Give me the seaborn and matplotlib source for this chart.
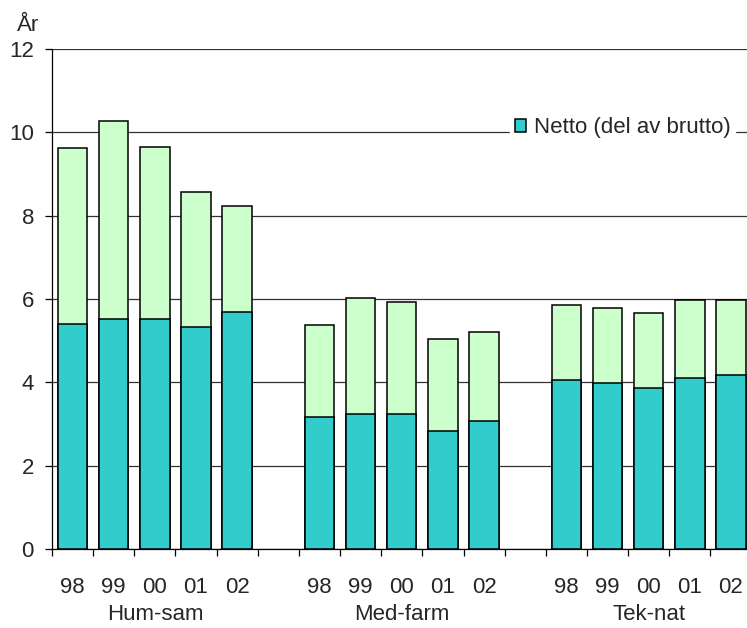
import numpy as np
import pandas as pd
import seaborn as sns
import matplotlib.pyplot as plt
from matplotlib.ticker import FixedLocator, MultipleLocator
import matplotlib.transforms as mtransforms

# data
groups = ["Hum-sam", "Med-farm", "Tek-nat"]
years = ["98", "99", "00", "01", "02"]
brutto = [9.62, 10.28, 9.66, 8.56, 8.23,
          5.38, 6.03, 5.94, 5.04, 5.21,
          5.86, 5.78, 5.66, 5.98, 5.98]
netto = [5.40, 5.52, 5.52, 5.33, 5.70,
         3.17, 3.24, 3.24, 2.83, 3.07,
         4.06, 3.98, 3.86, 4.10, 4.18]

# one empty slot between groups
pos = [g * 6 + i for g in range(len(groups)) for i in range(len(years))]
df = pd.DataFrame({"pos": pos, "brutto": brutto, "netto": netto,
                   "year": years * len(groups)})

sns.set_style("white")
plt.rcParams["font.family"] = ["Liberation Sans", "DejaVu Sans"]
fs = 16

fig = plt.figure(figsize=(7.47, 6.28), dpi=100)
ax = fig.add_axes([52 / 747, 79 / 628, 695 / 747, 500 / 628])

sns.barplot(data=df, x="pos", y="brutto", native_scale=True, color="#CCFFCC",
            saturation=1, edgecolor="black", linewidth=1.1, width=0.715, ax=ax)
sns.barplot(data=df, x="pos", y="netto", native_scale=True, color="#33CCCC",
            saturation=1, edgecolor="black", linewidth=1.1, width=0.715, ax=ax)

ax.set_xlim(-0.5, -0.5 + 695 / 41.15)
ax.set_ylim(0, 12)
ax.set_xlabel("")
ax.set_ylabel("")

ax.yaxis.set_major_locator(MultipleLocator(2))
ax.yaxis.grid(True, color="#333333", linewidth=0.9)
ax.set_axisbelow(True)

ax.xaxis.set_major_locator(FixedLocator(pos))
ax.set_xticklabels(df["year"])
ax.xaxis.set_minor_locator(FixedLocator(np.arange(-0.5, 17, 1)))
ax.tick_params(axis="x", which="major", length=0, pad=20, labelsize=fs)
ax.tick_params(axis="x", which="minor", length=5, width=0.9, color="black",
               direction="out", bottom=True)
ax.tick_params(axis="y", length=5, width=0.9, color="black", direction="out",
               left=True, pad=8, labelsize=fs)

for s in ["top", "right"]:
    ax.spines[s].set_visible(False)
for s in ["left", "bottom"]:
    ax.spines[s].set_color("black")
    ax.spines[s].set_linewidth(0.9)

trans = mtransforms.blended_transform_factory(ax.transData, ax.transAxes)
for g, name in enumerate(groups):
    ax.text(g * 6 + 2, -0.132, name, transform=trans, ha="center", va="center",
            fontsize=fs)

fig.text(28 / 747, 1 - 31 / 628, "År", ha="center", va="baseline", fontsize=fs)

netto_bars = ax.containers[1]
leg = ax.legend([netto_bars], ["Netto (del av brutto)"], loc="center right",
                bbox_to_anchor=(735 / 747, 1 - 128 / 628),
                bbox_transform=fig.transFigure, frameon=True, fancybox=False,
                facecolor="white", edgecolor="white", framealpha=1,
                handlelength=0.5, handleheight=0.5, handletextpad=0.35,
                borderpad=0.2, borderaxespad=0, fontsize=fs)

fig.savefig("out.png", dpi=100)
